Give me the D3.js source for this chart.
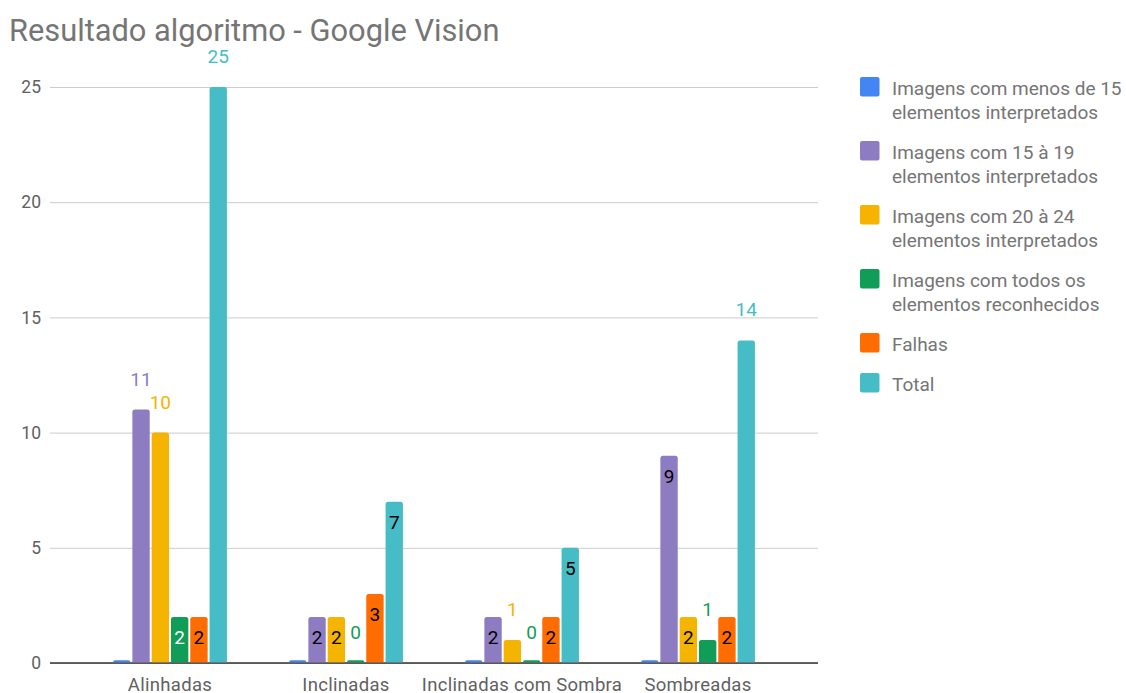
<!DOCTYPE html>
<html>
<head>
<meta charset="utf-8">
<script src="https://cdn.jsdelivr.net/npm/d3@7"></script>
<style>
  html, body { margin: 0; padding: 0; background: #fff; }
  svg { display: block; font-family: Roboto, "Noto Sans", Arial, sans-serif; }
</style>
</head>
<body>
<svg id="chart" width="1126" height="693"></svg>
<script>
// ---- data ----
const title = "Resultado algoritmo - Google Vision";
const categories = ["Alinhadas", "Inclinadas", "Inclinadas com Sombra", "Sombreadas"];
const seriesNames = [
  "Imagens com menos de 15 elementos interpretados",
  "Imagens com 15 à 19 elementos interpretados",
  "Imagens com 20 à 24 elementos interpretados",
  "Imagens com todos os elementos reconhecidos",
  "Falhas",
  "Total"
];
const legendLines = [
  ["Imagens com menos de 15", "elementos interpretados"],
  ["Imagens com 15 à 19", "elementos interpretados"],
  ["Imagens com 20 à 24", "elementos interpretados"],
  ["Imagens com todos os", "elementos reconhecidos"],
  ["Falhas"],
  ["Total"]
];
const menos15   = [0, 0, 0, 0];
const de15a19   = [11, 2, 2, 9];
const de20a24   = [10, 2, 1, 2];
const todos     = [2, 0, 0, 1];
const falhas    = [2, 3, 2, 2];
const total     = [25, 7, 5, 14];
const seriesValues = [menos15, de15a19, de20a24, todos, falhas, total];
const showLabels = [false, true, true, true, true, true];
const yTicks = [0, 5, 10, 15, 20, 25];

// ---- style ----
const colors = ["#4285F4", "#8E7CC3", "#F4B400", "#0F9D58", "#FF6D01", "#46BDC6"];
const insideTextColors = ["#000", "#000", "#000", "#fff", "#000", "#000"];

const svg = d3.select("#chart");
const plotLeft = 50, plotRight = 818, plotTop = 87, plotBottom = 663;

const y = d3.scaleLinear().domain([0, 25]).range([plotBottom, plotTop]);
const x0 = d3.scaleBand().domain(categories).range([plotLeft, plotRight])
  .paddingInner(0).paddingOuter(0.1818);
const x1 = d3.scaleBand().domain(d3.range(seriesNames.length))
  .range([0, x0.bandwidth()]).paddingInner(0.1).paddingOuter(1.61);

// title
svg.append("text")
  .attr("x", 9).attr("y", 40.5)
  .attr("font-size", 30.8).attr("fill", "#757575")
  .text(title);

// gridlines
const yAxis = d3.axisLeft(y).tickValues(yTicks).tickSize(-(plotRight - plotLeft)).tickPadding(9)
  .tickFormat(d3.format("d"));
const gAxis = svg.append("g").attr("transform", `translate(${plotLeft},0)`).call(yAxis);
gAxis.select(".domain").remove();
gAxis.selectAll(".tick line").attr("stroke", "#cccccc").attr("stroke-width", 1);
gAxis.selectAll(".tick text").attr("font-size", 17.5).attr("fill", "#616161")
  .attr("font-family", "Roboto, sans-serif");

// x axis labels
const xAxis = d3.axisBottom(x0).tickSize(0).tickPadding(0);
const gx = svg.append("g").attr("transform", `translate(0,${plotBottom})`).call(xAxis);
gx.select(".domain").remove();
gx.selectAll(".tick text").attr("font-size", 18.5).attr("fill", "#616161")
  .attr("letter-spacing", 0.3)
  .attr("font-family", "Roboto, sans-serif")
  .attr("dy", null).attr("y", 27.5);

// bars
function barPath(x, yTop, w, h, r) {
  if (h < r) r = Math.max(0, h);
  return `M${x},${yTop + h}V${yTop + r}Q${x},${yTop} ${x + r},${yTop}H${x + w - r}Q${x + w},${yTop} ${x + w},${yTop + r}V${yTop + h}Z`;
}

const bars = [];
categories.forEach((c, ci) => {
  seriesValues.forEach((vals, si) => {
    bars.push({ c, ci, si, v: vals[ci] });
  });
});

// baseline
svg.append("line")
  .attr("x1", plotLeft).attr("x2", plotRight)
  .attr("y1", y(0)).attr("y2", y(0))
  .attr("stroke", "#333").attr("stroke-width", 1.3);

const gBars = svg.append("g");
bars.forEach(b => {
  const bx = x0(b.c) + x1(b.si);
  const w = x1.bandwidth();
  let yTop = y(b.v);
  let h = plotBottom - 0.7 - yTop;
  if (h < 2) { h = 2; yTop = plotBottom - 0.7 - 2; }
  gBars.append("path")
    .attr("d", barPath(bx, yTop, w, h, 2.5))
    .attr("fill", colors[b.si]);
});

// labels
const gLab = svg.append("g");
bars.filter(b => showLabels[b.si]).forEach(b => {
  const cx = x0(b.c) + x1(b.si) + x1.bandwidth() / 2;
  const inside = b.v >= 2 && b.v <= 9;
  gLab.append("text")
    .attr("x", cx)
    .attr("y", inside ? y(b.v) + 27.5 : y(b.v) - 24)
    .attr("text-anchor", "middle")
    .attr("font-size", 19)
    .attr("fill", inside ? insideTextColors[b.si] : colors[b.si])
    .text(b.v);
});

// legend
const gLeg = svg.append("g");
let ly = 77;
legendLines.forEach((lines, i) => {
  gLeg.append("rect")
    .attr("x", 860).attr("y", ly).attr("width", 19.5).attr("height", 19.5)
    .attr("rx", 2).attr("fill", colors[i]);
  lines.forEach((t, k) => {
    gLeg.append("text")
      .attr("x", 892).attr("y", ly + 18 + k * 24)
      .attr("font-size", 19).attr("fill", "#757575")
      .text(t);
  });
  ly += lines.length * 24 + 16;
});
</script>
</body>
</html>
